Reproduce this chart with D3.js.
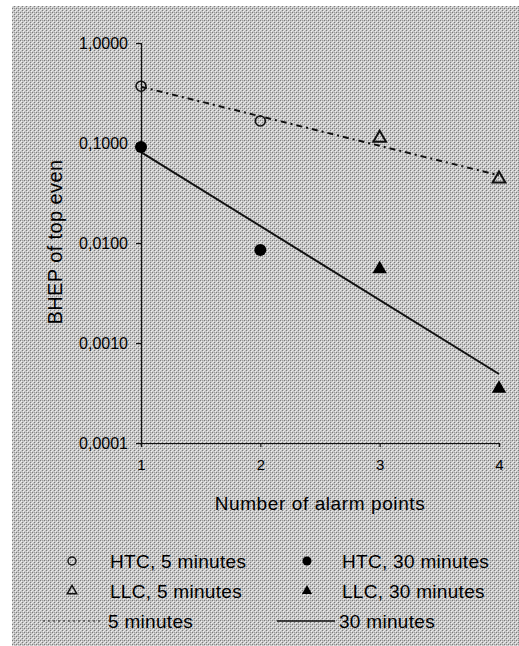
<!DOCTYPE html>
<html>
<head>
<meta charset="utf-8">
<script src="https://cdn.jsdelivr.net/npm/d3@7"></script>
<style>
  body { margin: 0; background: #fff; }
  svg text { font-family: "Liberation Sans", Arial, sans-serif; fill: #000; }
</style>
</head>
<body>
<div class="chart"></div>
<script>
// data
const alarmPoints = [1, 2, 3, 4];
const yTicks = [0.0001, 0.001, 0.01, 0.1, 1];
const htc5 = [{x: 1, v: 0.37}, {x: 2, v: 0.166}];
const llc5 = [{x: 3, v: 0.112}, {x: 4, v: 0.0437}];
const htc30 = [{x: 1, v: 0.091}, {x: 2, v: 0.0085}];
const llc30 = [{x: 3, v: 0.0055}, {x: 4, v: 0.00035}];
// trend lines (endpoints)
const trend5 = [{x: 1, v: 0.365}, {x: 4, v: 0.0475}];
const trend30 = [{x: 1, v: 0.081}, {x: 4, v: 0.00049}];

const width = 519, height = 646;

const svg = d3.select('.chart')
  .append('svg')
  .attr('width', width)
  .attr('height', height);

// dithered grey background
const pat = svg.append('defs').append('pattern')
  .attr('id', 'dither')
  .attr('width', 4).attr('height', 4)
  .attr('patternUnits', 'userSpaceOnUse');
pat.append('rect').attr('width', 4).attr('height', 4).attr('fill', '#c6c6c6');
pat.append('rect').attr('x', 0).attr('y', 0).attr('width', 1).attr('height', 1).attr('fill', '#7a7a7a');
pat.append('rect').attr('x', 2).attr('y', 2).attr('width', 1).attr('height', 1).attr('fill', '#7a7a7a');
pat.append('rect').attr('x', 1).attr('y', 1).attr('width', 1).attr('height', 1).attr('fill', '#f0f0f0');
pat.append('rect').attr('x', 3).attr('y', 3).attr('width', 1).attr('height', 1).attr('fill', '#f0f0f0');
pat.append('rect').attr('x', 2).attr('y', 0).attr('width', 1).attr('height', 1).attr('fill', '#a0a0a0');
pat.append('rect').attr('x', 0).attr('y', 2).attr('width', 1).attr('height', 1).attr('fill', '#e4e4e4');

svg.append('rect')
  .attr('x', 12).attr('y', 6)
  .attr('width', width - 12).attr('height', height - 6)
  .attr('fill', 'url(#dither)');

const x = d3.scaleLinear().domain([1, 4]).range([141, 499]);
const y = d3.scaleLog().domain([0.0001, 1]).range([443, 43]);

// y axis
const yAxis = svg.append('g')
  .attr('transform', 'translate(141,0)')
  .call(d3.axisLeft(y).tickValues(yTicks).tickSize(5).tickPadding(8)
    .tickFormat(d => d3.format('.4f')(d).replace('.', ',')));
yAxis.selectAll('text').style('font-size', '16px');

// x axis
const xAxis = svg.append('g')
  .attr('transform', 'translate(0,443)')
  .call(d3.axisBottom(x).tickValues(alarmPoints).tickSize(4).tickPadding(12)
    .tickFormat(d3.format('d')));
xAxis.selectAll('text').style('font-size', '15px');

svg.selectAll('.domain, .tick line').attr('stroke', '#111').attr('stroke-width', 1.2);

// titles
svg.append('text')
  .attr('x', 320).attr('y', 510)
  .attr('text-anchor', 'middle')
  .style('font-size', '19px')
  .style('letter-spacing', '0.6px')
  .text('Number of alarm points');

svg.append('text')
  .attr('transform', 'translate(62,242) rotate(-90)')
  .attr('text-anchor', 'middle')
  .style('font-size', '20px')
  .style('letter-spacing', '0.4px')
  .text('BHEP of top even');

// trend lines
const line = d3.line().x(d => x(d.x)).y(d => y(d.v));

svg.append('path')
  .datum(trend5)
  .attr('d', line)
  .attr('fill', 'none')
  .attr('stroke', '#111')
  .attr('stroke-width', 2)
  .attr('stroke-dasharray', '6,4,2,4');

svg.append('path')
  .datum(trend30)
  .attr('d', line)
  .attr('fill', 'none')
  .attr('stroke', '#111')
  .attr('stroke-width', 2);

// markers
const tri = d3.symbol().type(d3.symbolTriangle);

svg.selectAll('.htc5').data(htc5).enter().append('circle')
  .attr('cx', d => x(d.x)).attr('cy', d => y(d.v)).attr('r', 5)
  .attr('fill', 'none').attr('stroke', '#111').attr('stroke-width', 1.6);

svg.selectAll('.htc30').data(htc30).enter().append('circle')
  .attr('cx', d => x(d.x)).attr('cy', d => y(d.v)).attr('r', 6)
  .attr('fill', '#000');

svg.selectAll('.llc5').data(llc5).enter().append('path')
  .attr('d', tri.size(70))
  .attr('transform', d => `translate(${x(d.x)},${y(d.v)})`)
  .attr('fill', 'none').attr('stroke', '#111').attr('stroke-width', 2);

svg.selectAll('.llc30').data(llc30).enter().append('path')
  .attr('d', tri.size(90))
  .attr('transform', d => `translate(${x(d.x)},${y(d.v)})`)
  .attr('fill', '#000');

// legend
const leg = svg.append('g');
const legFont = '19px';
const rows = [561, 591, 621];

leg.append('circle').attr('cx', 72).attr('cy', rows[0]).attr('r', 4)
  .attr('fill', 'none').attr('stroke', '#111').attr('stroke-width', 1.4);
leg.append('circle').attr('cx', 307).attr('cy', rows[0]).attr('r', 4.5).attr('fill', '#000');
leg.append('path').attr('d', d3.symbol().type(d3.symbolTriangle).size(40))
  .attr('transform', `translate(72,${rows[1]})`)
  .attr('fill', 'none').attr('stroke', '#111').attr('stroke-width', 1.4);
leg.append('path').attr('d', d3.symbol().type(d3.symbolTriangle).size(45))
  .attr('transform', `translate(307,${rows[1]})`)
  .attr('fill', '#000');
leg.append('line').attr('x1', 43).attr('x2', 100).attr('y1', rows[2]).attr('y2', rows[2])
  .attr('stroke', '#222').attr('stroke-width', 1).attr('stroke-dasharray', '2,3');
leg.append('line').attr('x1', 277).attr('x2', 335).attr('y1', rows[2]).attr('y2', rows[2])
  .attr('stroke', '#111').attr('stroke-width', 1.4);

const labels = [
  {x: 110, y: rows[0], t: 'HTC, 5 minutes'},
  {x: 342, y: rows[0], t: 'HTC, 30 minutes'},
  {x: 110, y: rows[1], t: 'LLC, 5 minutes'},
  {x: 342, y: rows[1], t: 'LLC, 30 minutes'},
  {x: 108, y: rows[2], t: '5 minutes'},
  {x: 339, y: rows[2], t: '30 minutes'}
];
leg.selectAll('text').data(labels).enter().append('text')
  .attr('x', d => d.x).attr('y', d => d.y)
  .attr('dy', '0.35em')
  .style('font-size', legFont)
  .style('letter-spacing', '0.3px')
  .text(d => d.t);
</script>
</body>
</html>
